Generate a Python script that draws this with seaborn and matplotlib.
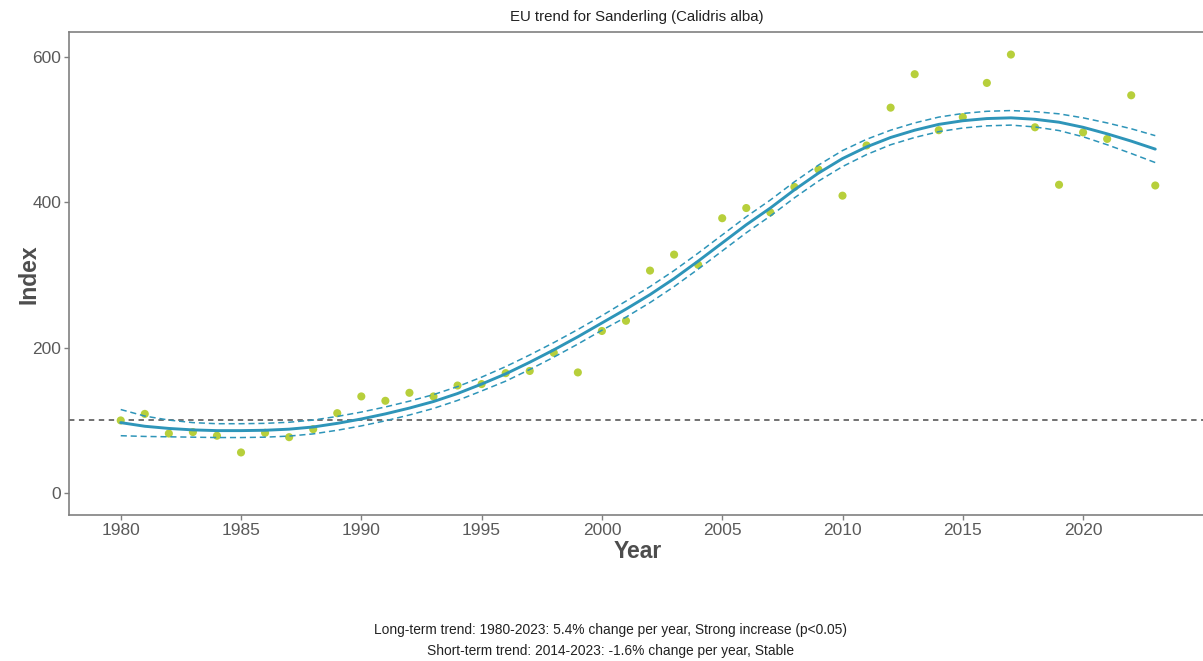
import numpy as np
import pandas as pd
import matplotlib
matplotlib.use("Agg")
import matplotlib.pyplot as plt
import seaborn as sns

# Annual index values (1980 = 100)
years = list(range(1980, 2024))
index_values = [100, 109, 82, 84, 79, 56, 83, 77, 88, 110,
                133, 127, 138, 133, 148, 150, 165, 168, 193, 166,
                223, 237, 306, 328, 314, 378, 392, 386, 421, 445,
                409, 478, 530, 576, 499, 517, 564, 603, 503, 424,
                496, 487, 547, 423]

# Smoothed trend with its confidence band
trend = [97, 92, 89, 87, 86, 86, 86.5, 88, 91, 96,
         102, 109, 117, 126, 137, 150, 164, 180, 197, 215,
         234, 253, 273, 295, 319, 344, 369, 392, 417, 440,
         460, 476, 489, 499, 507, 512, 515, 516, 514, 510,
         503, 494, 484, 473]
trend_upper = [115, 106, 100.5, 97, 95.5, 95.5, 96, 97.5, 100.5, 105.5,
               111.5, 118.5, 126.5, 135.5, 146.5, 159.5, 174, 190, 207, 225,
               244, 264, 284, 306, 330, 355, 380, 403, 428, 451,
               471, 486.5, 499, 509, 517, 522, 525, 526, 524.5, 521.5,
               516, 509, 501, 491.5]
trend_lower = [79, 78, 77.5, 77, 76.5, 76.5, 77, 78.5, 81.5, 86.5,
               92.5, 99.5, 107.5, 116.5, 127.5, 140.5, 154, 170, 187, 205,
               224, 242, 262, 284, 308, 333, 358, 381, 406, 429,
               449, 465.5, 479, 489, 497, 502, 505, 506, 503.5, 498.5,
               490, 479, 467, 454.5]

title_text = "EU trend for Sanderling (Calidris alba)"
long_term_text = "Long-term trend: 1980-2023: 5.4% change per year, Strong increase (p<0.05)"
short_term_text = "Short-term trend: 2014-2023: -1.6% change per year, Stable"
baseline = 100
x_ticks = [1980, 1985, 1990, 1995, 2000, 2005, 2010, 2015, 2020]
y_ticks = [0, 200, 400, 600]

points = pd.DataFrame({"Year": years, "Index": index_values})
smooth = pd.DataFrame({"Year": years, "trend": trend,
                       "upper": trend_upper, "lower": trend_lower})

sns.set_theme(style="white")
plt.rcParams["font.family"] = ["Liberation Sans", "DejaVu Sans"]

point_color = "#b7cf3b"
line_color = "#2e95b9"
text_gray = "#4d4d4d"
frame_gray = "#808080"

fig = plt.figure(figsize=(12.03, 6.61), dpi=100)
ax = fig.add_axes([69 / 1203, 146 / 661, (1207 - 69) / 1203, (515 - 32) / 661])

ax.axhline(baseline, color="#666666", linewidth=1.3, linestyle=(0, (3, 2.5)), zorder=1)

sns.scatterplot(data=points, x="Year", y="Index", ax=ax, color=point_color,
                s=34, edgecolor="none", zorder=2)
sns.lineplot(data=smooth, x="Year", y="trend", ax=ax, color=line_color,
             linewidth=2.1, zorder=4)
for col in ["upper", "lower"]:
    sns.lineplot(data=smooth, x="Year", y=col, ax=ax, color=line_color,
                 linewidth=1.1, linestyle=(0, (4, 2.5)), zorder=3)

ax.set_xlim(1977.85, 2025.15)
ax.set_ylim(-30, 634)
ax.set_xticks(x_ticks)
ax.set_yticks(y_ticks)
ax.tick_params(axis="both", which="major", direction="out", length=3.5, width=1,
               color=frame_gray, labelsize=12.5, labelcolor="#5a5a5a", pad=2,
               bottom=True, left=True)
for side in ax.spines.values():
    side.set_color(frame_gray)
    side.set_linewidth(1.2)

ax.set_xlabel("Year", fontsize=16.5, fontweight="bold", color=text_gray, labelpad=2)
ax.set_ylabel("")
ax.grid(False)

fig.text(29 / 1203, 1 - 274 / 661, "Index", rotation=90, ha="center", va="center",
         fontsize=16.5, fontweight="bold", color=text_gray)
fig.text(637 / 1203, 1 - 17 / 661, title_text, ha="center", va="center",
         fontsize=10.8, color="#222222")
fig.text(610.5 / 1203, 1 - 630 / 661, long_term_text, ha="center", va="center",
         fontsize=9.9, color="#222222")
fig.text(610.5 / 1203, 1 - 651 / 661, short_term_text, ha="center", va="center",
         fontsize=9.9, color="#222222")

fig.savefig("out.png", dpi=100)
